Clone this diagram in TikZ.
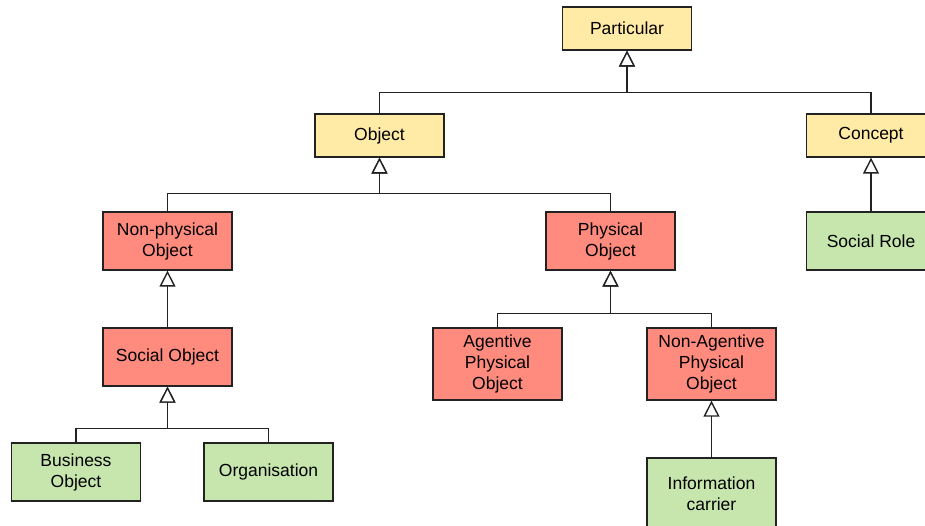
\documentclass[tikz,border=0pt]{standalone}
\usepackage{fontspec}
\setmainfont{Liberation Sans}
\usetikzlibrary{arrows.meta}
\definecolor{yel}{HTML}{FFEAA6}
\definecolor{redb}{HTML}{FF8B7E}
\definecolor{grn}{HTML}{C7E6AE}
\definecolor{edge}{HTML}{222222}
\tikzset{
  box/.style={draw=edge, line width=1.3pt, rectangle, minimum width=129pt,
    align=center, inner sep=0pt, font=\fontsize{17.5}{21}\selectfont},
  top/.style={box, fill=yel, minimum height=43pt},
  mid/.style={box, fill=redb, minimum height=58pt},
  tall/.style={box, fill=redb, minimum height=72pt},
  leaf/.style={box, fill=grn, minimum height=58pt},
  isa/.style={draw=edge, line width=1.4pt,
    -{Triangle[open, fill=white, length=16pt, width=16pt, line width=1.4pt]}},
}
\begin{document}
\begin{tikzpicture}[x=1pt, y=-1pt]
\useasboundingbox (0,0) rectangle (925,526);
\clip (0,0) rectangle (925,526);
\fill[white] (0,0) rectangle (925,526);

\node[top]  (particular) at (627,28.5)   {Particular};
\node[top]  (object)     at (379.5,135.5) {Object};
\node[top]  (concept)    at (871,135.5)  {Concept};
\node[mid]  (nonphys)    at (167.5,241)  {Non-physical\\Object};
\node[mid]  (phys)       at (610.5,241)  {Physical\\Object};
\node[leaf] (role)       at (871,241)    {Social Role};
\node[mid]  (social)     at (167.5,357)  {Social Object};
\node[tall] (agent)      at (497.5,364)  {Agentive\\Physical\\Object};
\node[tall] (nonagent)   at (711.5,364)  {Non-Agentive\\Physical\\Object};
\node[leaf] (business)   at (76,472)     {Business\\Object};
\node[leaf] (org)        at (268.5,472)  {Organisation};
\node[leaf, minimum height=72pt] (info) at (711.5,494) {Information\\carrier};

% generalisation links, children joined on a shared bus
\draw[isa] (object.north)  |- ([yshift=-42pt]particular.south) -- (particular.south);
\draw[isa] (concept.north) |- ([yshift=-42pt]particular.south) -- (particular.south);
\draw[isa] (nonphys.north) |- ([yshift=-36pt]object.south) -- (object.south);
\draw[isa] (phys.north)    |- ([yshift=-36pt]object.south) -- (object.south);
\draw[isa] (agent.north)    |- ([yshift=-43pt]phys.south) -- (phys.south);
\draw[isa] (nonagent.north) |- ([yshift=-43pt]phys.south) -- (phys.south);
\draw[isa] (business.north) |- ([yshift=-42pt]social.south) -- (social.south);
\draw[isa] (org.north)      |- ([yshift=-42pt]social.south) -- (social.south);
\draw[isa] (role.north)   -- (concept.south);
\draw[isa] (social.north) -- (nonphys.south);
\draw[isa] (info.north)   -- (nonagent.south);
\end{tikzpicture}
\end{document}
